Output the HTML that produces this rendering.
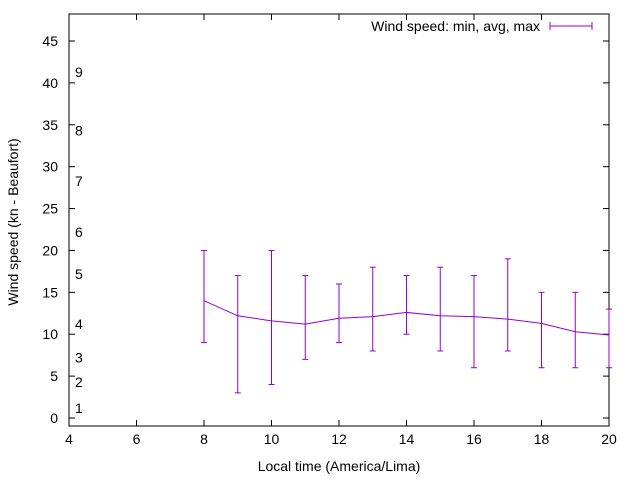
<!DOCTYPE html>
<html><head><meta charset="utf-8"><style>
body{margin:0;background:#fff}
svg text{font-family:"Liberation Sans",sans-serif;font-size:14px;fill:#000}
</style></head><body>
<svg id="chart" width="640" height="480" xmlns="http://www.w3.org/2000/svg">
<rect width="640" height="480" fill="#fff"/>
<g id="axes"></g>
<g id="series"></g>
<text transform="translate(18,222) rotate(-90)" text-anchor="middle">Wind speed (kn - Beaufort)</text>
<text x="339" y="471" text-anchor="middle">Local time (America/Lima)</text>
<g>
<text x="540" y="31" text-anchor="end">Wind speed: min, avg, max</text>
<line x1="550" y1="26" x2="592" y2="26" stroke="#9400d3" stroke-width="1"/>
<line x1="550" y1="22" x2="550" y2="30" stroke="#9400d3"/>
<line x1="592" y1="22" x2="592" y2="30" stroke="#9400d3"/>
</g>
</svg>
<script>
const hours=[8,9,10,11,12,13,14,15,16,17,18,19,20];
const avgSpeed=[14,12.2,11.6,11.2,11.9,12.1,12.6,12.2,12.1,11.8,11.3,10.3,9.9];
const minSpeed=[9,3,4,7,9,8,10,8,6,8,6,6,6];
const maxSpeed=[20,17,20,17,16,18,17,18,17,19,15,15,13];
const xTicks=[4,6,8,10,12,14,16,18,20];
const yTicks=[0,5,10,15,20,25,30,35,40,45];
const beaufortLabels=["1","2","3","4","5","6","7","8","9"];
const beaufortValues=[1.2,4.3,7.2,11.2,17.2,22.2,28.3,34.3,41.3];

const L=69,R=609,T=14,B=426;
const xs=v=>L+(v-4)*(R-L)/16;
const ys=v=>418-v*377/45;
const NS="http://www.w3.org/2000/svg";
function mk(tag,attrs,parent){const e=document.createElementNS(NS,tag);for(const k in attrs)e.setAttribute(k,attrs[k]);parent.appendChild(e);return e;}
const ax=document.getElementById('axes'),se=document.getElementById('series');
const frame=mk('rect',{x:L,y:T,width:R-L,height:B-T,fill:'none',stroke:'#000','stroke-width':1},ax);


xTicks.forEach(v=>{const x=xs(v);
 mk('line',{x1:x,y1:B,x2:x,y2:B-6,stroke:'#000'},ax);
 mk('line',{x1:x,y1:T,x2:x,y2:T+6,stroke:'#000'},ax);
 const t=mk('text',{x:x,y:B+18,'text-anchor':'middle'},ax);t.textContent=v;
 
 
});
yTicks.forEach(v=>{const y=ys(v);
 mk('line',{x1:L,y1:y,x2:L+6,y2:y,stroke:'#000'},ax);
 mk('line',{x1:R,y1:y,x2:R-6,y2:y,stroke:'#000'},ax);
 const t=mk('text',{x:L-11,y:y+5,'text-anchor':'end'},ax);t.textContent=v;
 
 
});
beaufortLabels.forEach((s,i)=>{const t=mk('text',{x:75,y:ys(beaufortValues[i])+5},ax);t.textContent=s;
 
 
});
const c='#9400d3';
const pts=hours.map((h,i)=>xs(h)+','+ys(avgSpeed[i])).join(' ');
const line=mk('polyline',{points:pts,fill:'none',stroke:c,'stroke-width':1},se);


hours.forEach((h,i)=>{const x=xs(h),y1=ys(minSpeed[i]),y2=ys(maxSpeed[i]);
 const g=mk('g',{},se);
 
 
 mk('line',{x1:x,y1:y1,x2:x,y2:y2,stroke:c},g);
 mk('line',{x1:x-3,y1:y1,x2:x+3,y2:y1,stroke:c},g);
 mk('line',{x1:x-3,y1:y2,x2:x+3,y2:y2,stroke:c},g);
});
</script>
</body></html>
